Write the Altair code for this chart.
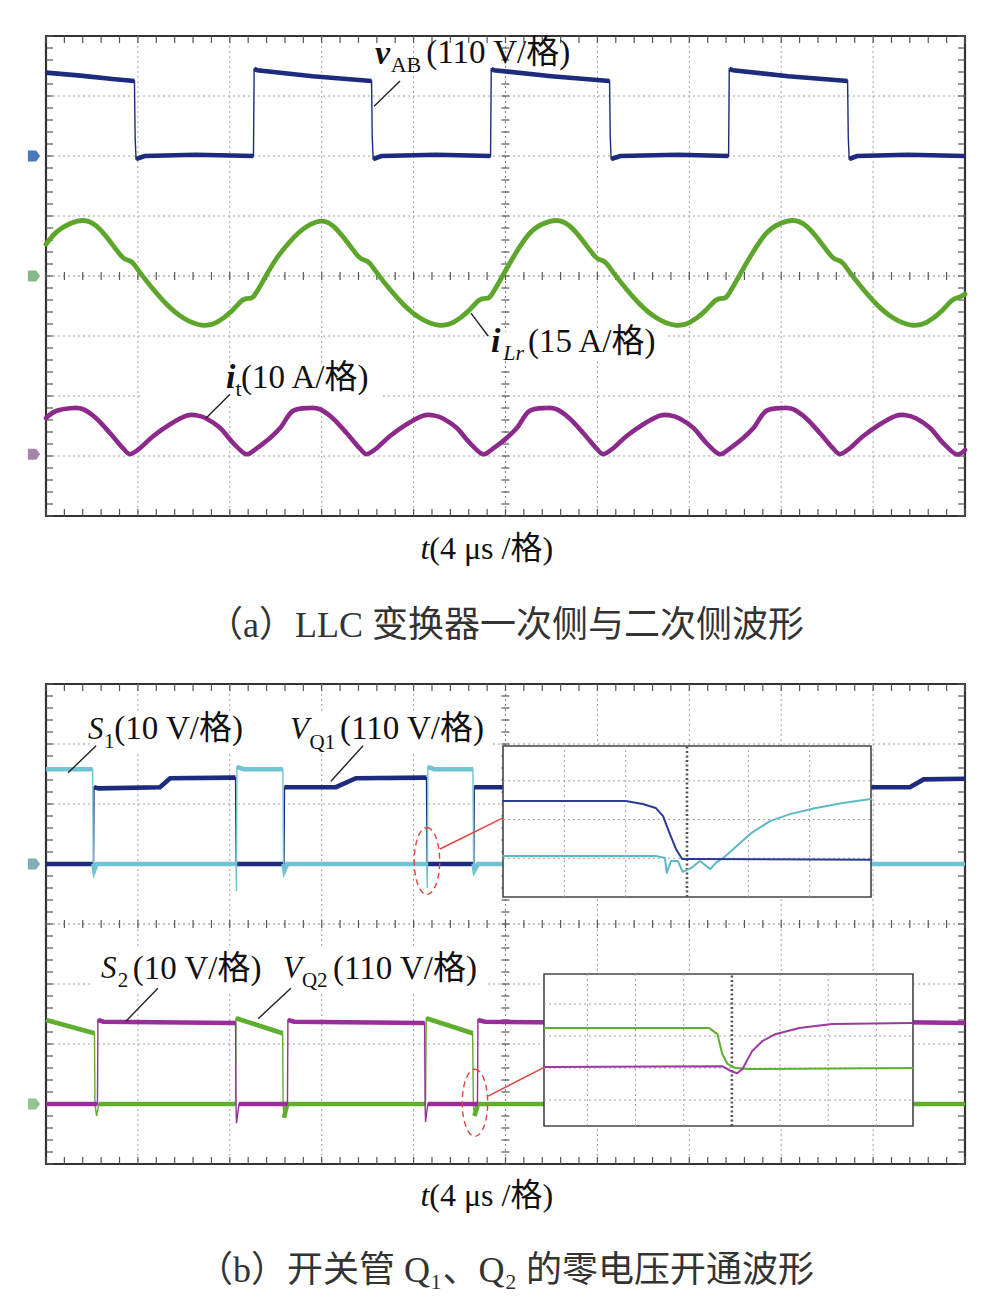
import altair as alt
import pandas as pd

# ---------------- panel (a): t in µs (4 µs/div), amplitude in screen divisions ----------------
VAB = [(0.0, 3.39), (1.5, 3.34), (3.0, 3.28), (3.85, 3.25), (3.88, 2.3), (3.92, 1.95), (4.3, 2.0), (6.5, 2.02), (9.03, 2.0),
       (9.06, 3.45), (9.2, 3.43), (11.6, 3.33), (14.17, 3.25), (14.2, 2.3), (14.24, 1.95), (14.6, 2.0), (17.0, 2.02), (19.35, 2.0),
       (19.38, 3.45), (19.5, 3.43), (22.0, 3.33), (24.53, 3.25), (24.56, 2.3), (24.6, 1.95), (25.0, 2.0), (27.5, 2.02), (29.71, 2.0),
       (29.74, 3.45), (29.9, 3.43), (32.3, 3.33), (34.89, 3.25), (34.92, 2.3), (34.96, 1.95), (35.3, 2.0), (37.5, 2.02), (40.0, 2.0)]

ILR = [(0.0, 0.53), (0.44, 0.75), (1.04, 0.88), (1.61, 0.95), (2.18, 0.87), (2.79, 0.58), (3.35, 0.28), (3.57, 0.27), (3.79, 0.23),
       (4.09, 0.05), (4.66, -0.22), (5.22, -0.47), (5.96, -0.72), (6.83, -0.85), (7.40, -0.80), (8.14, -0.58), (8.57, -0.37),
       (8.88, -0.37), (9.01, -0.38), (9.45, -0.08), (10.01, 0.30),
       (10.62, 0.58), (11.19, 0.80), (11.91, 0.95), (12.48, 0.87), (13.09, 0.58), (13.65, 0.28), (13.87, 0.27), (14.09, 0.23),
       (14.39, 0.05), (14.96, -0.22), (15.52, -0.47), (16.26, -0.72), (17.13, -0.85), (17.70, -0.80), (18.44, -0.58), (18.87, -0.37),
       (19.18, -0.37), (19.31, -0.38), (19.75, -0.08), (20.31, 0.30),
       (21.04, 0.75), (21.64, 0.88), (22.21, 0.95), (22.78, 0.87), (23.39, 0.58), (23.95, 0.28), (24.17, 0.27), (24.39, 0.23),
       (24.69, 0.05), (25.26, -0.22), (25.82, -0.47), (26.56, -0.72), (27.43, -0.85), (28.00, -0.80), (28.74, -0.58), (29.17, -0.37),
       (29.48, -0.37), (29.61, -0.38), (30.05, -0.08), (30.61, 0.30),
       (31.34, 0.75), (31.94, 0.88), (32.51, 0.95), (33.08, 0.87), (33.69, 0.58), (34.25, 0.28), (34.47, 0.27), (34.69, 0.23),
       (34.99, 0.05), (35.56, -0.22), (36.12, -0.47), (36.86, -0.72), (37.73, -0.85), (38.30, -0.80), (39.04, -0.58), (39.47, -0.37),
       (39.78, -0.36), (40.0, -0.30)]

IT = [(0.0, -2.37), (0.44, -2.25), (1.18, -2.20), (1.61, -2.22), (2.18, -2.37), (2.79, -2.62), (3.35, -2.87), (3.66, -2.97),
      (4.09, -2.87), (4.66, -2.67), (5.40, -2.47), (6.09, -2.33), (6.53, -2.32), (6.96, -2.37), (7.57, -2.53), (8.14, -2.78),
      (8.71, -2.97), (9.14, -2.88), (9.75, -2.70), (10.2, -2.53),
      (10.74, -2.25), (11.48, -2.20), (11.91, -2.22), (12.48, -2.37), (13.09, -2.62), (13.65, -2.87), (13.96, -2.97),
      (14.39, -2.87), (14.96, -2.67), (15.70, -2.47), (16.39, -2.33), (16.83, -2.32), (17.26, -2.37), (17.87, -2.53), (18.44, -2.78),
      (19.01, -2.97), (19.44, -2.88), (20.05, -2.70), (20.5, -2.53),
      (21.04, -2.25), (21.78, -2.20), (22.21, -2.22), (22.78, -2.37), (23.39, -2.62), (23.95, -2.87), (24.26, -2.97),
      (24.69, -2.87), (25.26, -2.67), (26.00, -2.47), (26.69, -2.33), (27.13, -2.32), (27.56, -2.37), (28.17, -2.53), (28.74, -2.78),
      (29.31, -2.97), (29.74, -2.88), (30.35, -2.70), (30.8, -2.53),
      (31.34, -2.25), (32.08, -2.20), (32.51, -2.22), (33.08, -2.37), (33.69, -2.62), (34.25, -2.87), (34.56, -2.97),
      (34.99, -2.87), (35.56, -2.67), (36.30, -2.47), (36.99, -2.33), (37.43, -2.32), (37.86, -2.37), (38.47, -2.53), (39.04, -2.78),
      (39.61, -2.97), (40.0, -2.90)]

# ---------------- panel (b) ----------------
VQ1 = [(0, 1.0), (2.07, 1.0), (2.09, 2.28), (2.3, 2.26), (4.96, 2.28), (5.40, 2.43), (8.25, 2.44), (8.28, 1.0),
       (10.36, 1.0), (10.38, 2.28), (12.62, 2.28), (13.49, 2.43), (16.56, 2.44), (16.59, 1.0),
       (18.62, 1.0), (18.64, 2.28), (20.92, 2.28), (21.79, 2.43), (24.86, 2.44), (24.89, 1.0),
       (26.92, 1.0), (26.94, 2.28), (29.22, 2.28), (30.09, 2.43), (33.16, 2.44), (33.19, 1.0),
       (35.22, 1.0), (35.24, 2.28), (37.6, 2.28), (38.2, 2.41), (40, 2.42)]
S1 = [(0, 2.58), (2.03, 2.58), (2.06, 1.0), (2.1, 0.9), (2.2, 1.0), (8.27, 1.0), (8.29, 0.55), (8.31, 2.62), (8.6, 2.58),
      (10.31, 2.58), (10.34, 1.0), (10.38, 0.9), (10.5, 1.0), (16.57, 1.0), (16.6, 0.6), (16.62, 2.62), (16.9, 2.58),
      (18.58, 2.58), (18.61, 1.0), (18.65, 0.9), (18.8, 1.0), (24.87, 1.0), (24.9, 0.6), (24.92, 2.62), (25.2, 2.58),
      (26.88, 2.58), (26.91, 1.0), (27.0, 1.0), (33.17, 1.0), (33.2, 0.6), (33.22, 2.62), (33.5, 2.58),
      (35.18, 2.58), (35.21, 1.0), (35.3, 0.9), (35.4, 1.0), (40, 1.0)]
VQ2 = [(0, -1.6), (2.11, -1.82), (2.13, -3.0), (2.2, -3.2), (2.3, -3.0), (8.25, -3.0), (8.27, -1.57), (10.3, -1.82),
       (10.32, -3.0), (10.36, -3.23), (10.5, -3.0), (16.52, -3.0), (16.55, -1.57), (18.57, -1.82), (18.6, -3.0), (18.65, -3.2),
       (18.8, -3.0), (24.84, -3.0), (24.86, -1.57), (26.88, -1.82), (26.9, -3.0), (27.0, -3.0), (33.13, -3.0), (33.15, -1.57),
       (35.18, -1.82), (35.2, -3.0), (35.3, -3.2), (35.4, -3.0), (40, -3.0)]
S2 = [(0, -3.0), (2.24, -3.0), (2.26, -1.6), (2.5, -1.63), (8.25, -1.65), (8.27, -3.0), (8.29, -3.32), (8.4, -3.0),
      (10.51, -3.0), (10.53, -1.6), (10.8, -1.63), (16.48, -1.65), (16.5, -3.0), (16.52, -3.3), (16.62, -3.0),
      (18.78, -3.0), (18.8, -1.6), (19.1, -1.63), (24.8, -1.65), (24.82, -3.0), (24.9, -3.0), (27.08, -3.0), (27.1, -1.6),
      (27.4, -1.63), (33.1, -1.65), (33.12, -3.0), (33.2, -3.3), (33.3, -3.0), (35.38, -3.0), (35.4, -1.6), (35.7, -1.63),
      (40, -1.65)]

# zoomed insets (inset divisions)
IN1_VQ1 = [(0, 2.48), (2.0, 2.48), (2.28, 2.40), (2.49, 2.30), (2.61, 2.09), (2.72, 1.63), (2.82, 1.24), (2.92, 0.98),
           (3.10, 0.98), (6.0, 0.96)]
IN1_S1 = [(0, 1.06), (2.49, 1.06), (2.64, 1.01), (2.67, 0.62), (2.74, 0.93), (2.85, 0.93), (2.93, 0.65), (3.07, 0.75),
          (3.21, 0.93), (3.38, 0.72), (3.47, 0.88), (3.59, 1.01), (3.72, 1.19), (4.03, 1.63), (4.35, 1.96), (4.68, 2.14),
          (5.10, 2.30), (5.54, 2.43), (6.0, 2.53)]
IN2_VQ2 = [(0.11, 3.25), (3.53, 3.25), (3.70, 3.06), (3.80, 2.44), (3.91, 2.13), (4.07, 2.0), (4.36, 1.97), (7.75, 2.0)]
IN2_S2 = [(0.11, 2.03), (3.80, 2.06), (3.97, 1.91), (4.11, 1.84), (4.22, 1.97), (4.42, 2.53), (4.63, 2.84), (4.90, 3.06),
          (5.40, 3.25), (6.08, 3.38), (7.75, 3.41)]

# grid / tick positions
X_GRID = [4, 8, 12, 16, 24, 28, 32, 36]
Y_GRID = [-3, -2, -1, 1, 2, 3]
X_MINOR = [round(0.8 * i, 2) for i in range(51)]
Y_MINOR = [round(-4 + 0.2 * i, 2) for i in range(41)]

# annotations
LAB_A_MAIN = [("(110 V/格)", 16.55, 3.72), ("(15 A/格)", 20.98, -1.1), ("(10 A/格)", 8.49, -1.70)]
LAB_A_ITAL = [("v", 14.32, 3.70), ("i", 19.37, -1.1), ("i", 7.83, -1.70)]
LAB_A_SUB = [("AB", 15.0, 3.52), ("t", 8.25, -1.88)]
LAB_A_SUB_IT = [("Lr", 19.9, -1.28)]
LEAD_A = [(15.41, 3.25, 14.28, 2.83), (18.50, -0.62, 19.24, -1.0), (8.01, -1.97, 6.96, -2.37)]
BOX_A = [(19.33, -0.93, 26.94, -1.42), (4.09, -1.45, 14.54, -2.12)]
MARK_A = [(2.0, "#4a78bd"), (0.0, "#86b886"), (-2.97, "#a585aa")]

LAB_B_MAIN = [("(10 V/格)", 2.97, 3.25), ("(110 V/格)", 12.8, 3.25), ("(10 V/格)", 3.78, -0.75), ("(110 V/格)", 12.49, -0.75)]
LAB_B_ITAL = [("S", 1.83, 3.23), ("V", 10.62, 3.23), ("S", 2.39, -0.75), ("V", 10.32, -0.75)]
LAB_B_SUB = [("1", 2.52, 3.03), ("Q1", 11.47, 3.02), ("2", 3.12, -0.95), ("Q2", 11.14, -0.95)]
LEAD_B = [(2.18, 2.97, 0.96, 2.52), (13.8, 2.97, 12.4, 2.38), (4.87, -1.07, 3.48, -1.62), (10.66, -1.07, 9.23, -1.58)]
BOX_B = [(2.05, 3.52, 19.37, 2.88), (2.05, -0.37, 19.15, -1.12)]
RED_LINES_B = [(17.15, 1.25, 19.89, 1.77), (19.24, -2.87, 21.72, -2.38)]
RED_ELL_B = [(16.58, 1.05), (18.67, -2.98)]
MARK_B = [(1.0, "#7fb0b8"), (-3.0, "#92c592")]

AXIS_T = "t"
AXIS_REST = "(4 μs /格)"
CAP_A = "（a）LLC 变换器一次侧与二次侧波形"
CAP_B = "（b）开关管 Q₁、Q₂ 的零电压开通波形"

# ---------------- styling ----------------
FONT = "Liberation Serif, Noto Sans CJK SC"
CJK = "Liberation Serif, DejaVu Serif, Noto Sans CJK SC"
GRID_C = "#a3a3a3"
NAVY, GREEN_A, PURPLE_A = "#1c2b7d", "#5ea52c", "#8c2a8b"
CYAN, GREEN_B, PURPLE_B = "#6fc3d2", "#5fae2e", "#9a2d9c"
RED = "#e2433b"
W, H = 919, 480

XS = alt.Scale(domain=[0, 40], nice=False, zero=False)
YS = alt.Scale(domain=[-4, 4], nice=False, zero=False)
IN1_X = alt.Scale(domain=[0, 6], range=[457, 825], nice=False, zero=False)
IN1_Y = alt.Scale(domain=[0, 3.9], range=[213, 62], nice=False, zero=False)
IN2_X = alt.Scale(domain=[0.1, 7.76], range=[498, 867], nice=False, zero=False)
IN2_Y = alt.Scale(domain=[0.19, 4.94], range=[442, 290], nice=False, zero=False)


def ex(f, sc=XS):
    return alt.X(f, type="quantitative", scale=sc, axis=None)


def ey(f, sc=YS):
    return alt.Y(f, type="quantitative", scale=sc, axis=None)


def line(points, color, width, xs=XS, ys=YS, interp="linear"):
    df = pd.DataFrame(points, columns=["t", "v"])
    df["o"] = range(len(df))
    return alt.Chart(df).mark_line(color=color, strokeWidth=width, interpolate=interp,
                                   strokeJoin="round", strokeCap="round").encode(
        x=ex("t", xs), y=ey("v", ys), order="o:Q")


def step_trace(points, color, thick=4.6, thin=1.4):
    """Thin line through every point; thick line only along the levels (switching edges/spikes stay thin)."""
    df = pd.DataFrame(points, columns=["t", "v"])
    df["o"] = range(len(df))
    seg = [0]
    for i in range(1, len(points)):
        dt = points[i][0] - points[i - 1][0]
        dv = abs(points[i][1] - points[i - 1][1])
        seg.append(seg[-1] + (1 if (dt < 0.12 and dv > 0.15) else 0))
    df["seg"] = seg
    thin_l = alt.Chart(df).mark_line(color=color, strokeWidth=thin).encode(
        x=ex("t"), y=ey("v"), order="o:Q")
    thick_l = alt.Chart(df).mark_line(color=color, strokeWidth=thick, strokeCap="butt").encode(
        x=ex("t"), y=ey("v"), order="o:Q", detail="seg:N")
    return [thin_l, thick_l]


def texts(rows, size, style="normal", weight="normal", align="left", color="#111", font=FONT):
    df = pd.DataFrame(rows, columns=["text", "t", "v"])
    return alt.Chart(df).mark_text(font=font, fontSize=size, fontStyle=style, fontWeight=weight,
                                   align=align, baseline="middle", color=color).encode(
        x=ex("t"), y=ey("v"), text="text:N")


def out_texts(rows, size, ypix, style="normal", align="left", color="#111", font=FONT):
    df = pd.DataFrame(rows, columns=["text", "t"])
    return alt.Chart(df).mark_text(font=font, fontSize=size, fontStyle=style, align=align,
                                   baseline="middle", color=color).encode(
        x=ex("t"), y=alt.value(ypix), text="text:N")


def segs(rows, color, width):
    df = pd.DataFrame(rows, columns=["t", "v", "t2", "v2"])
    return alt.Chart(df).mark_rule(color=color, strokeWidth=width).encode(
        x=ex("t"), y=ey("v"), x2=alt.X2("t2"), y2=alt.Y2("v2"))


def boxes(rows):
    df = pd.DataFrame(rows, columns=["t", "v", "t2", "v2"])
    return alt.Chart(df).mark_rect(fill="white").encode(
        x=ex("t"), y=ey("v"), x2=alt.X2("t2"), y2=alt.Y2("v2"))


def markers(rows):
    df = pd.DataFrame(rows, columns=["v", "c"])
    return alt.Chart(df).mark_point(shape="M -1 -0.9 L 0.35 -0.9 L 1 0 L 0.35 0.9 L -1 0.9 Z",
                                    size=150, filled=True, opacity=1, strokeWidth=0).encode(
        x=alt.value(-12), y=ey("v"), color=alt.Color("c:N", scale=None))


def frame():
    dash = [2, 3]
    L = []
    L.append(alt.Chart(pd.DataFrame({"t": X_GRID})).mark_rule(color=GRID_C, strokeWidth=1, strokeDash=dash).encode(x=ex("t")))
    L.append(alt.Chart(pd.DataFrame({"v": Y_GRID})).mark_rule(color=GRID_C, strokeWidth=1, strokeDash=dash).encode(y=ey("v")))
    L.append(alt.Chart(pd.DataFrame({"t": [20]})).mark_rule(color="#8a8a8a", strokeWidth=1.2, strokeDash=dash).encode(x=ex("t")))
    L.append(alt.Chart(pd.DataFrame({"v": [0]})).mark_rule(color="#8a8a8a", strokeWidth=1.2, strokeDash=dash).encode(y=ey("v")))
    xm = pd.DataFrame({"t": X_MINOR})
    ym = pd.DataFrame({"v": Y_MINOR})
    tick_c = "#555"
    L.append(alt.Chart(xm).mark_rule(color=tick_c, strokeWidth=1.2).encode(x=ex("t"), y=alt.value(0), y2=alt.value(7)))
    L.append(alt.Chart(xm).mark_rule(color=tick_c, strokeWidth=1.2).encode(x=ex("t"), y=alt.value(H), y2=alt.value(H - 7)))
    L.append(alt.Chart(xm).mark_rule(color=tick_c, strokeWidth=1.2).encode(x=ex("t"), y=alt.value(H / 2 - 4), y2=alt.value(H / 2 + 4)))
    L.append(alt.Chart(ym).mark_rule(color=tick_c, strokeWidth=1.2).encode(y=ey("v"), x=alt.value(0), x2=alt.value(7)))
    L.append(alt.Chart(ym).mark_rule(color=tick_c, strokeWidth=1.2).encode(y=ey("v"), x=alt.value(W), x2=alt.value(W - 7)))
    L.append(alt.Chart(ym).mark_rule(color=tick_c, strokeWidth=1.2).encode(y=ey("v"), x=alt.value(W / 2 - 4), x2=alt.value(W / 2 + 4)))
    return L


def inset(xs, ys, x0, x1, y0, y1, vgrid, center, hgrid, traces):
    L = []
    L.append(alt.Chart(pd.DataFrame({"a": [x0], "b": [x1], "c": [y0], "d": [y1]})).mark_rect(
        fill="white", stroke="#444", strokeWidth=1.6).encode(
        x=ex("a", xs), x2=alt.X2("b"), y=ey("c", ys), y2=alt.Y2("d")))
    vg = pd.DataFrame({"a": vgrid, "c": [y0] * len(vgrid), "d": [y1] * len(vgrid)})
    L.append(alt.Chart(vg).mark_rule(color=GRID_C, strokeWidth=1, strokeDash=[2, 3]).encode(
        x=ex("a", xs), y=ey("c", ys), y2=alt.Y2("d")))
    hg = pd.DataFrame({"c": hgrid, "a": [x0] * len(hgrid), "b": [x1] * len(hgrid)})
    L.append(alt.Chart(hg).mark_rule(color=GRID_C, strokeWidth=1, strokeDash=[2, 3]).encode(
        y=ey("c", ys), x=ex("a", xs), x2=alt.X2("b")))
    cg = pd.DataFrame({"a": [center], "c": [y0], "d": [y1]})
    L.append(alt.Chart(cg).mark_rule(color="#555", strokeWidth=2.6, strokeDash=[2, 2.5]).encode(
        x=ex("a", xs), y=ey("c", ys), y2=alt.Y2("d")))
    for pts, col in traces:
        L.append(line(pts, col, 2.0, xs, ys))
    return alt.layer(*L)


# ---------------- panel (a) ----------------
panel_a = alt.layer(
    *frame(),
    boxes(BOX_A),
    *step_trace(VAB, NAVY),
    line(ILR, GREEN_A, 4.8, interp="basis"),
    line(IT, PURPLE_A, 4.6, interp="cardinal"),
    markers(MARK_A),
    segs(LEAD_A, "#222", 1.4),
    texts(LAB_A_MAIN, 33),
    texts(LAB_A_ITAL, 34, style="italic", weight="bold"),
    texts(LAB_A_SUB, 22),
    texts(LAB_A_SUB_IT, 22, style="italic"),
    out_texts([(AXIS_T, 16.3)], 32, 513, style="italic"),
    out_texts([(AXIS_REST, 16.68)], 32, 513),
    out_texts([(CAP_A, 20.0)], 36, 590, align="center", color="#333", font=CJK),
).properties(width=W, height=H)

# ---------------- panel (b) ----------------
main_b = alt.layer(
    *frame(),
    boxes(BOX_B),
    *step_trace(VQ1, NAVY),
    *step_trace(S1, CYAN),
    *step_trace(VQ2, GREEN_B),
    *step_trace(S2, PURPLE_B),
    markers(MARK_B),
)
inset1 = inset(IN1_X, IN1_Y, 0, 6, 0, 3.9, [1, 2, 4, 5], 3, [1, 2, 3],
               [(IN1_S1, "#5cb9c6"), (IN1_VQ1, "#2b3a96")])
inset2 = inset(IN2_X, IN2_Y, 0.1, 7.76, 0.19, 4.94, [1, 2, 3, 5, 6, 7], 4, [1, 2, 3, 4],
               [(IN2_VQ2, "#5fb030"), (IN2_S2, "#9a3aa0")])

ell = pd.DataFrame(RED_ELL_B, columns=["t", "v"])
annot_b = alt.layer(
    segs(RED_LINES_B, RED, 1.4),
    alt.Chart(ell).mark_point(shape="M 0 -1 A 0.38 1 0 1 1 0 1 A 0.38 1 0 1 1 0 -1 Z", size=4500,
                              filled=False, opacity=1, stroke=RED, strokeWidth=1.4, strokeDash=[6, 4]).encode(
        x=ex("t"), y=ey("v")),
    segs(LEAD_B, "#222", 1.4),
    texts(LAB_B_MAIN, 33),
    texts(LAB_B_ITAL, 31, style="italic"),
    texts(LAB_B_SUB, 21),
    out_texts([(AXIS_T, 16.3)], 32, 512, style="italic"),
    out_texts([(AXIS_REST, 16.68)], 32, 512),
    out_texts([(CAP_B, 20.0)], 36, 587, align="center", color="#333", font=CJK),
)

panel_b = alt.layer(main_b, inset1, inset2, annot_b).resolve_scale(
    x="independent", y="independent").properties(width=W, height=H)

chart = alt.vconcat(panel_a, panel_b, spacing=168, bounds="flush").properties(
    padding={"left": 26, "top": 34, "right": 10, "bottom": 0},
    background="white",
).configure_view(stroke="#333", strokeWidth=2.2)

chart.save("out.html", embed_options={"renderer": "svg", "actions": False})
